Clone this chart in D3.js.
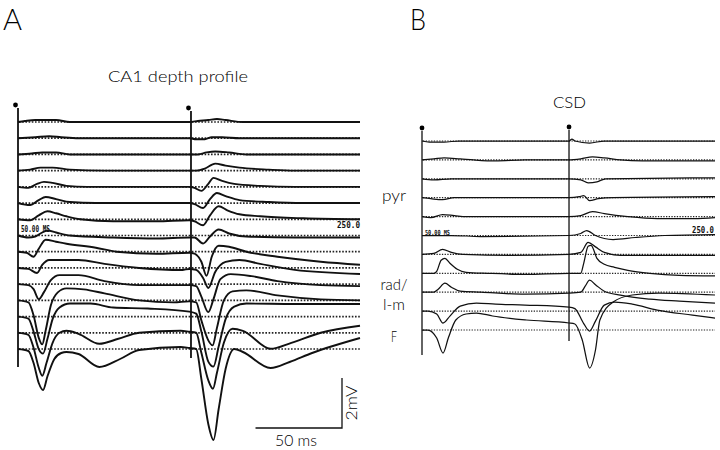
<!DOCTYPE html>
<html><head><meta charset="utf-8">
<script src="https://cdn.jsdelivr.net/npm/d3@7"></script>
<style>body{margin:0;background:#fff}svg{display:block}</style>
</head><body>
<svg id="c" width="720" height="450"></svg>
<script>
// ---- Panel A: CA1 depth profile, 15 channels, [time ms, mV] ----
const a00=[[0,0],[4,.04],[10,.08],[22,.08],[30,0],[99,0],[104,.04],[110,.08],[115,.12],[120,.08],[130,0],[197.7,0]];
const a01=[[0,0],[10,.04],[18,.08],[25,.04],[35,0],[99,0],[103,-.04],[108,-.04],[112,.04],[118,.04],[128,0],[197.7,0]];
const a02=[[0,0],[8,.04],[14,.08],[22,.08],[30,0],[99,0],[104,0],[109,.08],[114,.12],[122,.08],[132,0],[197.7,0]];
const a03=[[0,0],[7,.04],[13,.12],[20,.12],[30,.04],[50,0],[99,0],[103,0],[108,.08],[114,.28],[120,.2],[128,.12],[145,.04],[160,0],[197.7,0]];
const a04=[[0,0],[6,-.04],[11,.12],[15,.2],[20,.16],[28,.04],[40,0],[99,0],[102,-.04],[106,-.16],[110,.12],[113,.36],[118,.24],[125,.12],[140,.04],[160,0],[197.7,0]];
const a05=[[0,0],[7,-.08],[12,.12],[16,.24],[22,.16],[30,.04],[45,0],[99,0],[102,-.04],[107,-.2],[111,.16],[115,.4],[120,.28],[128,.12],[145,.04],[165,0],[197.7,0]];
const a06=[[0,0],[7,-.04],[12,.16],[17,.32],[22,.24],[28,.12],[36,0],[55,-.08],[80,-.08],[99,-.04],[102,-.08],[107,-.24],[111,.16],[116,.52],[121,.36],[128,.2],[140,.12],[165,.04],[197.7,0]];
const a07=[[0,0],[6,-.08],[10,-.04],[13,.08],[17,.2],[22,.12],[30,0],[55,-.08],[80,-.12],[99,-.08],[102,-.08],[107,-.32],[111,-.04],[116,.24],[122,.08],[132,-.04],[160,-.08],[197.7,-.08]];
const a08=[[0,0],[5,-.04],[9,-.2],[12,.12],[16,.48],[22,.4],[28,.32],[45,.16],[57,0],[80,-.08],[99,-.04],[102,-.08],[106,-.4],[109,-.96],[112,-.2],[116,.24],[122,.2],[132,0],[150,-.2],[175,-.4],[197.7,-.52]];
const a09=[[0,0],[6,-.04],[11,-.2],[14,.12],[18,.32],[35,.32],[50,.16],[70,0],[95,-.08],[99,-.04],[103,-.08],[107,-.4],[110,-.8],[114,-.16],[120,.24],[128,.32],[140,.16],[160,-.08],[197.7,-.24]];
const a10=[[0,0],[6,-.04],[9,-.2],[12,-.6],[15,-.32],[19,.16],[24,.36],[35,.36],[50,.12],[70,-.04],[99,-.04],[103,-.08],[106,-.5],[110,-1.12],[113,-.6],[117,.2],[123,.4],[135,.32],[150,.12],[175,-.04],[197.7,-.08]];
const a11=[[0,0],[6,-.08],[9,-.6],[12,-1.5],[14,-1.76],[16,-1.2],[19,-.2],[23,.32],[28,.48],[38,.44],[50,.28],[70,0],[90,-.08],[99,-.04],[103,-.08],[106,-.8],[110,-1.6],[112.5,-1.8],[115,-1.1],[119,0],[124,.36],[132,.4],[150,.2],[175,.04],[197.7,0]];
const a12=[[0,0],[6,-.08],[9,-.6],[12,-1.3],[14.5,-1.48],[17,-.9],[20,-.1],[24,.36],[30,.52],[42,.52],[55,.36],[75,.32],[99,.2],[103,.12],[106,-.6],[110,-1.8],[113,-2.0],[116,-1.2],[120,-.1],[125,.4],[132,.52],[160,.5],[197.7,.5]];
const a13=[[0,0],[6,-.08],[9,-.6],[12,-1.4],[14,-1.72],[16.5,-1.2],[20,-.4],[24,0],[28,.08],[35,-.04],[47,-.44],[58,-.24],[70,0],[94,.08],[99,.04],[103,0],[106,-.8],[110,-1.9],[112.7,-2.24],[115,-1.6],[119,-.4],[124,.16],[130,.08],[146,-.64],[158,-.4],[175,0],[197.7,.28]];
const a14=[[0,0],[6,-.08],[9,-.56],[12,-1.36],[14.5,-1.64],[17,-1.1],[21,-.4],[25,-.16],[28,-.12],[35,-.2],[47,-.72],[59,-.4],[70,-.04],[94,.08],[99,.04],[103,0],[106,-1.2],[110,-3.0],[113,-3.64],[116,-2.4],[120,-.8],[125,0],[130,-.12],[146,-.76],[157,-.52],[170,-.16],[197.7,.44]];
const depthTraces=[a00,a01,a02,a03,a04,a05,a06,a07,a08,a09,a10,a11,a12,a13,a14];

// ---- Panel B: CSD, 11 channels, [time ms, a.u.] ----
const b00=[[0,0],[5,-.04],[15,-.04],[25,0],[100,0],[102,.08],[104,0],[114,-.08],[124,0],[199.3,0]];
const b01=[[0,0],[8,.04],[15,.08],[26,.04],[35,0],[50,-.04],[70,0],[100,0],[108,.04],[116,.12],[124,.08],[135,0],[150,-.04],[199.3,-.04]];
const b02=[[0,0],[8,-.04],[20,0],[100,0],[108,-.04],[113,-.16],[119,-.12],[125,0],[199.3,.04]];
const b03=[[0,0],[6,-.04],[14,-.08],[22,0],[100,0],[107,.04],[110,.08],[114,-.12],[120,-.04],[130,0],[199.3,.04]];
const b04=[[0,0],[6,-.04],[14,.08],[22,.04],[30,0],[100,0],[108,.04],[116,.2],[124,.12],[140,0],[160,-.08],[185,-.08],[199.3,-.04]];
const b05=[[0,0],[20,0],[40,-.04],[100,0],[108,.08],[112,.2],[118,0],[130,-.16],[145,-.08],[165,0],[199.3,.04]];
const b06=[[0,0],[8,.04],[14,.2],[20,.08],[28,0],[60,-.04],[100,0],[108,.08],[113,.48],[118,.3],[124,.08],[135,-.04],[160,-.04],[199.3,-.04]];
const b07=[[0,0],[8,0],[10,.08],[13,.52],[15.6,.6],[19,.4],[24,.16],[30,.04],[45,0],[70,-.04],[100,0],[108,0],[110,.4],[113,1.08],[115,1.12],[119,.6],[124,.36],[131,.24],[140,.12],[155,0],[175,-.08],[199.3,-.1]];
const b08=[[0,0],[8,0],[11,.12],[15.6,.36],[20,.2],[26,.04],[40,0],[70,-.08],[100,-.04],[108,0],[111,.24],[114,.48],[118,.3],[124,.04],[135,-.12],[155,-.28],[175,-.36],[199.3,-.44]];
const b09=[[0,0],[4,0],[10,-.12],[14.3,-.48],[19,-.2],[26,.2],[37,.32],[50,.28],[70,.24],[100,.16],[104,.1],[110,-.5],[114,-.8],[118,-.4],[124,.24],[131,.36],[143,.28],[160,.04],[184,-.16],[199.3,-.28]];
const b10=[[0,0],[4,0],[10,-.32],[14.3,-.92],[18,-.3],[23,.4],[30,.64],[37,.68],[48,.56],[71,.4],[100,.28],[104,.24],[109,-.4],[114,-1.52],[118,-.8],[121,.4],[130,1.12],[143,1.4],[161,1.48],[199.3,1.4]];
const csdTraces=[b00,b01,b02,b03,b04,b05,b06,b07,b08,b09,b10];

const stimTimes=[0,100];
const layerLabels=[["pyr",2.9,24],["rad/",7.62,27],["l-m",8.68,22],["F",10.37,6]];
const scaleBarMs=50, scaleBarMv=2;

const svg=d3.select("#c");
const font="'Lato', 'Open Sans', 'DejaVu Sans', sans-serif";

const xA=d3.scaleLinear().domain([0,197.7]).range([18,360]);
const chA=d3.scaleLinear().domain([0,14]).range([122,349]);
const xB=d3.scaleLinear().domain([0,199.3]).range([422,715]);
const chB=d3.scaleLinear().domain([0,10]).range([141,330]);
const v=d3.scaleLinear().domain([0,1]).range([0,-25]);

function panel(traces,x,ch,opt){
  const g=svg.append("g");
  g.selectAll("line.base").data(traces).join("line")
    .attr("x1",x.range()[0]+1).attr("x2",x.range()[1])
    .attr("y1",(d,i)=>ch(i)).attr("y2",(d,i)=>ch(i))
    .attr("stroke","#222").attr("stroke-width",opt.dotW).attr("stroke-dasharray",opt.dash);
  const line=d3.line().curve(d3.curveMonotoneX);
  g.selectAll("path.tr").data(traces).join("path")
    .attr("fill","none").attr("stroke","#111").attr("stroke-width",opt.w)
    .attr("stroke-linejoin","round")
    .attr("d",(d,i)=>line(d.map(p=>[x(p[0]),ch(i)+v(p[1])])));
  stimTimes.forEach((t,k)=>{
    g.append("line").attr("x1",x(t)).attr("x2",x(t))
      .attr("y1",opt.stimTop[k]).attr("y2",opt.stimBot[k])
      .attr("stroke","#111").attr("stroke-width",opt.stimW);
    g.append("circle").attr("cx",x(t)+opt.dotDx).attr("cy",opt.stimTop[k]-3).attr("r",2.4).attr("fill","#000");
  });
  return g;
}

panel(depthTraces,xA,chA,{w:1.9,dotW:1.7,dash:"1.6,1.6",stimW:1.8,stimTop:[108,111],stimBot:[367,358],dotDx:-2.5});
panel(csdTraces,xB,chB,{w:1.25,dotW:1.2,dash:"1.3,1.4",stimW:1.3,stimTop:[131,130],stimBot:[355,341],dotDx:0});

const mono="'DejaVu Sans Mono', 'Liberation Mono', monospace";
function small(t,x,y,fs,len){
  svg.append("text").attr("x",x).attr("y",y).attr("font-family",mono).attr("font-weight","bold")
    .attr("font-size",fs).attr("textLength",len).attr("lengthAdjust","spacingAndGlyphs").attr("fill","#111").text(t);
}
small("50.00 MS",21,232,9,29);
small("250.0",337,228,9,23);
small("50.00 MS",425,235,7,25);
small("250.0",692,233,8,22);

function label(t,x,y,fs,len,anchor){
  const el=svg.append("text").attr("x",x).attr("y",y).attr("text-anchor",anchor||"start")
    .attr("font-family",font).attr("font-weight",300).attr("font-size",fs).attr("fill","#000").text(t);
  if(len) el.attr("textLength",len).attr("lengthAdjust","spacingAndGlyphs");
  return el;
}
label("A",3,30,30,19);
label("B",410,30,30,16);
label("CA1 depth profile",108,82,16,140);
label("CSD",553,108,15,33);

layerLabels.forEach(d=>{
  label(d[0],394,chB(d[1])+5,15,d[2],"middle");
});

const sbRight=342, sbBottom=428;
const t1=xA.invert(sbRight), t0=t1-scaleBarMs;
svg.append("path").attr("fill","none").attr("stroke","#111").attr("stroke-width",1.3)
  .attr("d",`M${xA(t0)},${sbBottom}H${xA(t1)}V${sbBottom+v(scaleBarMv)}`);
label(scaleBarMs+" ms",275,446,15,42);
svg.append("text").attr("transform",`translate(357,${sbBottom+v(scaleBarMv/2)}) rotate(-90)`).attr("text-anchor","middle")
  .attr("font-family",font).attr("font-weight",300).attr("font-size",15).attr("textLength",35).attr("lengthAdjust","spacingAndGlyphs").attr("fill","#000").text(scaleBarMv+"mV");
</script>
</body></html>
